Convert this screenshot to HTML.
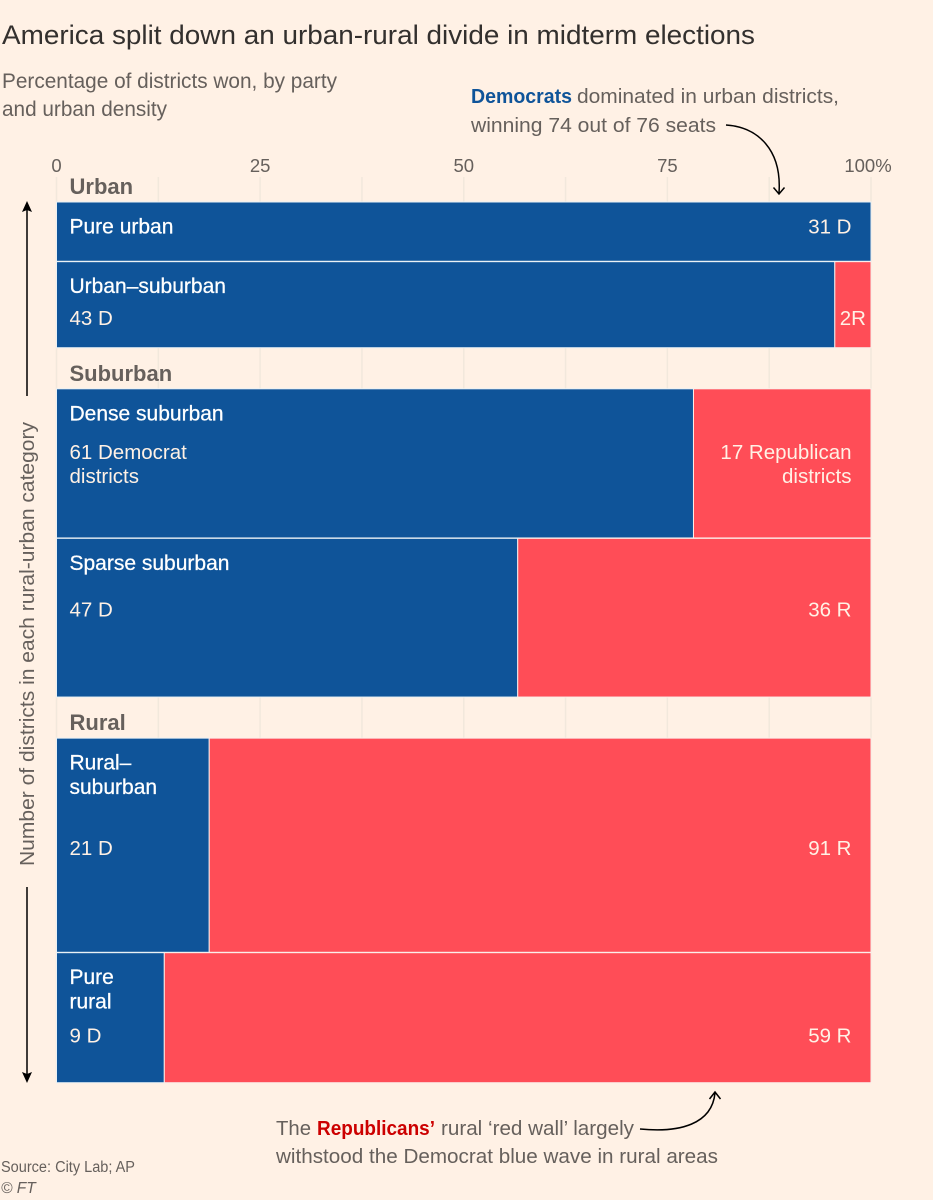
<!DOCTYPE html>
<html lang="en">
<head>
<meta charset="utf-8">
<title>America split down an urban-rural divide in midterm elections</title>
<style>
html,body{margin:0;padding:0;background:#fff1e5;}
svg{display:block;font-family:"Liberation Sans",sans-serif;}
.ann{font-size:20.5px;fill:#66605c;}
.tick{font-size:18.5px;fill:#66605c;text-anchor:middle;}
.sec{font-size:22px;font-weight:bold;fill:#66605c;}
.cat{font-size:21px;fill:#fff;stroke:#fff;stroke-width:.25px;}
.val{font-size:20.5px;fill:#fff1e5;}
</style>
</head>
<body>
<svg id="chart" xmlns="http://www.w3.org/2000/svg" width="933" height="1200" viewBox="0 0 933 1200">
  <rect x="0" y="0" width="933" height="1200" fill="#fff1e5"/>
  <text x="2" y="44" font-size="26.5" fill="#33302e" textLength="753" lengthAdjust="spacingAndGlyphs">America split down an urban-rural divide in midterm elections</text>
  <text x="2" y="88" font-size="21" fill="#66605c" textLength="335" lengthAdjust="spacingAndGlyphs">Percentage of districts won, by party</text>
  <text x="2" y="116" font-size="21" fill="#66605c" textLength="165" lengthAdjust="spacingAndGlyphs">and urban density</text>

  <g id="grid"></g>
  <g id="ticks"></g>
  <g id="sections"></g>
  <g id="bars"></g>
  <g id="labels"></g>

  <text class="ann" x="471" y="103"><tspan font-weight="bold" fill="#0f5499" textLength="101" lengthAdjust="spacingAndGlyphs">Democrats</tspan><tspan x="577" textLength="262" lengthAdjust="spacingAndGlyphs">dominated in urban districts,</tspan></text>
  <text class="ann" x="471" y="132" textLength="245" lengthAdjust="spacingAndGlyphs">winning 74 out of 76 seats</text>
  <path d="M726 125 C758 127 782 150 779 193 M773.5 187.5 L779 194 L784.5 187.5" fill="none" stroke="#000" stroke-width="1.5"/>

  <text class="ann" x="276" y="1135"><tspan textLength="35" lengthAdjust="spacingAndGlyphs">The</tspan><tspan x="317" font-weight="bold" fill="#cc0000" textLength="118" lengthAdjust="spacingAndGlyphs">Republicans’</tspan><tspan x="441" textLength="193" lengthAdjust="spacingAndGlyphs">rural ‘red wall’ largely</tspan></text>
  <text class="ann" x="276" y="1163" textLength="442" lengthAdjust="spacingAndGlyphs">withstood the Democrat blue wave in rural areas</text>
  <path d="M640 1129 C680 1133 712 1124 715 1093 M709.5 1099 L715 1092 L720.5 1099" fill="none" stroke="#000" stroke-width="1.5"/>

  <text transform="translate(34 866) rotate(-90)" font-size="20.5" fill="#66605c" textLength="444" lengthAdjust="spacingAndGlyphs">Number of districts in each rural-urban category</text>
  <path d="M27 396 V206" stroke="#000" stroke-width="1.5" fill="none"/>
  <path d="M27 201 L32 212 L27 210 L22 212 Z" fill="#000"/>
  <path d="M27 887 V1078" stroke="#000" stroke-width="1.5" fill="none"/>
  <path d="M27 1083 L32 1072 L27 1074 L22 1072 Z" fill="#000"/>

  <text x="1" y="1172" font-size="15.5" fill="#66605c" textLength="134" lengthAdjust="spacingAndGlyphs">Source: City Lab; AP</text>
  <text x="1" y="1193" font-size="15.5" font-style="italic" fill="#66605c">© FT</text>
</svg>
<script>
// Chart data
const categories = ["Pure urban", "Urban–suburban", "Dense suburban", "Sparse suburban", "Rural–|suburban", "Pure|rural"];
const groups = ["Urban", "Urban", "Suburban", "Suburban", "Rural", "Rural"];
const demSeats = [31, 43, 61, 47, 21, 9];
const repSeats = [0, 2, 17, 36, 91, 59];
const tickValues = [0, 25, 50, 75, 100];
const tickLabels = ["0", "25", "50", "75", "100%"];
const gridValues = [0, 12.5, 25, 37.5, 50, 62.5, 75, 87.5, 100];

// Axis functions
const X0 = 56.5, X100 = 871;
const xScale = p => X0 + (X100 - X0) * p / 100;
const SEAT_PX = 1.912;
const heightScale = seats => seats * SEAT_PX;
const TOP = 202, ROW_GAP = 0.4, GROUP_GAP = 40.7;

const NS = "http://www.w3.org/2000/svg";
function mk(parent, tag, attrs, text) {
  const el = document.createElementNS(NS, tag);
  for (const k in attrs) el.setAttribute(k, attrs[k]);
  if (text !== undefined) el.textContent = text;
  document.getElementById(parent).appendChild(el);
  return el;
}

gridValues.forEach(v => {
  const el = mk('grid', 'line', {x1: xScale(v), x2: xScale(v), y1: 177, y2: 1082, stroke: '#f2e8dc', 'stroke-width': 1.5});
  
  
});

tickValues.forEach((v, i) => {
  const el = mk('ticks', 'text', {class: 'tick', x: xScale(v) - (v === 100 ? 3 : 0), y: 172}, tickLabels[i]);
  
  
});

// Baseline offsets of the value line within each row (layout only)
function valueOffset(i, h) {
  if (i === 0) return 31.5;
  if (i === 1) return h - 22.5;
  if (i === 2) return 70;
  if (i === 3) return h / 2 - 1;
  if (i === 4) return h / 2 + 10;
  return h / 2 + 25;
}

let y = TOP;
categories.forEach((cat, i) => {
  const total = demSeats[i] + repSeats[i];
  if (i > 0 && groups[i] !== groups[i - 1]) y += GROUP_GAP;
  if (i === 0 || groups[i] !== groups[i - 1]) {
    const sec = mk('sections', 'text', {class: 'sec', x: 69.5, y: y - 8}, groups[i]);
    
    
  }
  const h = heightScale(total);
  const split = xScale(demSeats[i] / total * 100);

  const dem = mk('bars', 'rect', {x: X0, y: y, width: split - X0, height: h, fill: '#0f5499', stroke: '#eaf1f5', 'stroke-width': 1});
  
  
  if (repSeats[i] > 0) {
    const rep = mk('bars', 'rect', {x: split, y: y, width: X100 - split, height: h, fill: '#ff4d57', stroke: '#fbeeea', 'stroke-width': 1});
    
    
  }

  cat.split('|').forEach((line, j) => {
    const t = mk('labels', 'text', {class: 'cat', x: 69.5, y: y + 31.5 + j * 24.5}, line);
    
    
  });

  const vy = y + valueOffset(i, h);
  const demLines = i === 2 ? [demSeats[i] + ' Democrat', 'districts'] : [demSeats[i] + ' D'];
  const repLines = i === 2 ? [repSeats[i] + ' Republican', 'districts'] : [repSeats[i] + ' R'];
  demLines.forEach((line, j) => {
    const onRight = i === 0;
    const t = mk('labels', 'text', {class: 'val', x: onRight ? 851.5 : 69.5, y: vy + j * 24, 'text-anchor': onRight ? 'end' : 'start'}, line);
    
    
  });
  if (repSeats[i] > 0) {
    const narrow = X100 - split < 50;
    if (narrow) {
      const t = mk('labels', 'text', {class: 'val', x: (split + X100) / 2, y: vy, 'text-anchor': 'middle'}, repSeats[i] + 'R');
      
      
    } else {
      repLines.forEach((line, j) => {
        const t = mk('labels', 'text', {class: 'val', x: 851.5, y: vy + j * 24, 'text-anchor': 'end'}, line);
        
        
      });
    }
  }
  y += h + ROW_GAP;
});
</script>
</body>
</html>
